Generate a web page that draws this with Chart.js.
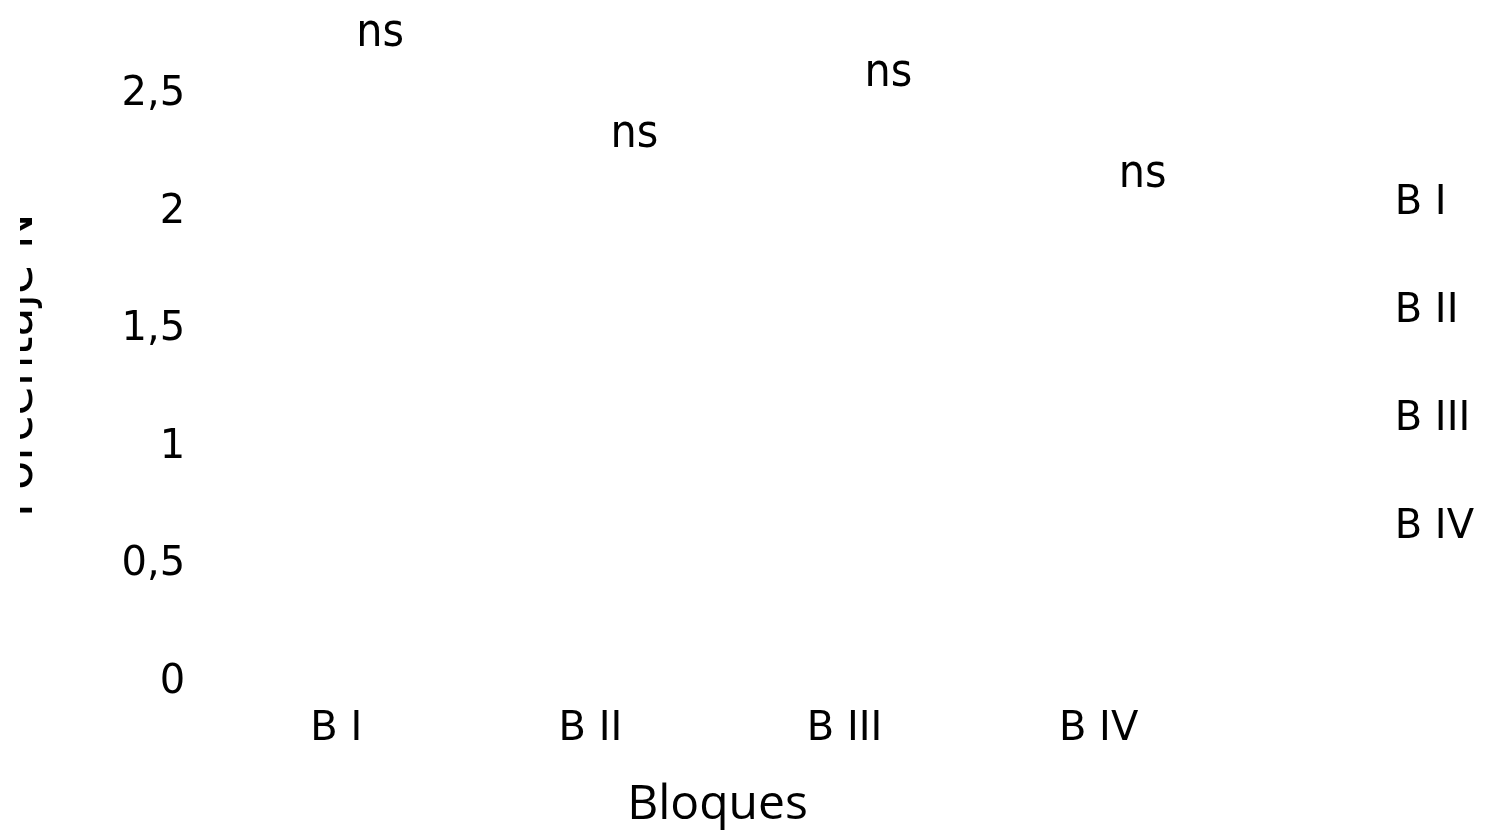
<!DOCTYPE html>
<html>
<head>
<meta charset="utf-8">
<script src="https://cdn.jsdelivr.net/npm/chart.js@4"></script>
<style>
  html, body { margin: 0; padding: 0; background: #fff; }
  #wrap { width: 1497px; height: 835px; }
</style>
</head>
<body>
<div id="wrap"><canvas id="bloquesChart"></canvas></div>
<script>
// Data
const categories = ["B I", "B II", "B III", "B IV"];
const blockValues = [2.65, 2.22, 2.48, 2.05];
const sigLabels = ["ns", "ns", "ns", "ns"];
const yTitle = "Porcentaje N";
const xTitle = "Bloques";

const tickFont = { family: "'DejaVu Sans', Verdana, sans-serif", size: 40 };

// bars are drawn but invisible in the original, one series per block
const datasets = categories.map((name, i) => ({
  label: name,
  data: categories.map((_, j) => (j === i ? blockValues[i] : null)),
  backgroundColor: "rgba(0,0,0,0)",
  borderColor: "rgba(0,0,0,0)",
  borderWidth: 0
}));

// "ns" over every bar
const sigPlugin = {
  id: "sigLabels",
  afterDatasetsDraw(chart) {
    const ctx = chart.ctx;
    ctx.save();
    ctx.font = "46px 'DejaVu Sans Condensed', 'DejaVu Sans', sans-serif";
    ctx.fillStyle = "#000";
    ctx.textAlign = "center";
    ctx.textBaseline = "alphabetic";
    chart.data.datasets.forEach((ds, i) => {
      const meta = chart.getDatasetMeta(i);
      meta.data.forEach((bar, j) => {
        if (ds.data[j] == null) return;
        ctx.fillText(sigLabels[j], bar.x + 44, bar.y - 14);
      });
    });
    ctx.restore();
  }
};

// the original axis title is cut at the left edge
const clipPlugin = {
  id: "leftClip",
  afterDraw(chart) {
    const ctx = chart.ctx;
    ctx.save();
    ctx.fillStyle = "#fff";
    ctx.fillRect(0, 0, 20, chart.height);
    ctx.restore();
  }
};

new Chart(document.getElementById("bloquesChart"), {
  type: "bar",
  data: { labels: categories, datasets: datasets },
  plugins: [sigPlugin, clipPlugin],
  options: {
    responsive: true,
    maintainAspectRatio: false,
    animation: false,
    layout: { padding: { top: 40, right: 13, bottom: 1, left: 0 } },
    datasets: { bar: { skipNull: true } },
    plugins: {
      tooltip: { enabled: false },
      legend: {
        position: "right",
        align: "center",
        fullSize: false,
        labels: {
          color: "#000",
          font: tickFont,
          boxWidth: 81,
          boxHeight: 0,
          padding: 68
        }
      }
    },
    scales: {
      x: {
        grid: { display: false, drawTicks: false },
        border: { display: false },
        ticks: { color: "#000", font: tickFont, padding: 23 },
        title: {
          display: true,
          text: xTitle,
          color: "#000",
          font: { family: "'Open Sans', sans-serif", size: 48 },
          padding: { top: 0, bottom: 0 }
        }
      },
      y: {
        min: 0,
        max: 2.7,
        grid: { display: false, drawTicks: false },
        border: { display: false },
        ticks: {
          color: "#000",
          font: tickFont,
          padding: 24,
          stepSize: 0.5,
          includeBounds: false,
          callback: (v) => String(v).replace(".", ",")
        },
        title: {
          display: true,
          text: yTitle,
          color: "#000",
          font: { family: "'DejaVu Sans', sans-serif", size: 48 },
          padding: { top: -9, bottom: 49 }
        }
      }
    }
  }
});
</script>
</body>
</html>
